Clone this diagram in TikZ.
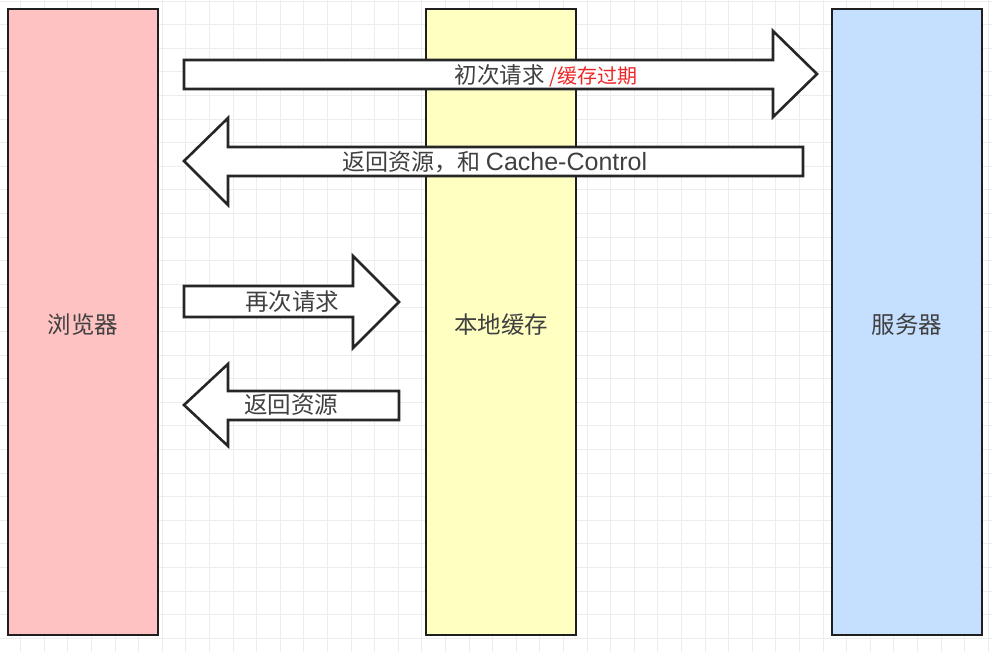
\documentclass[tikz,border=0pt]{standalone}
\usepackage{fontspec}
\setmainfont{Liberation Sans}
\newfontfamily\cjk{Noto Sans CJK SC}
\begin{document}
\begin{tikzpicture}[x=1pt,y=-1pt,
  col/.style={draw=black!88,line width=2pt},
  bigarrow/.style={draw=black!85,line width=2.6pt,fill=white,line join=miter},
  lbl/.style={text=black!75,font=\cjk\fontsize{23.5}{26}\selectfont,inner sep=0pt},
  alabel/.style={text=black!75,font=\cjk\fontsize{22.5}{26}\selectfont,inner sep=0pt}]
\useasboundingbox (0,0) rectangle (992,652);
\fill[white] (0,0) rectangle (992,652);
% grid
\foreach \i in {0,...,42} {
  \draw[black!7,line width=0.9pt] ({-3+23.6*\i},0) -- ({-3+23.6*\i},652);
}
\foreach \j in {0,...,28} {
  \draw[black!7,line width=0.9pt] (0,{1+23.6*\j}) -- (992,{1+23.6*\j});
}
% columns
\draw[col,fill={rgb,255:red,255;green,194;blue,194}] (8,9) rectangle (158,635);
\draw[col,fill={rgb,255:red,255;green,255;blue,194}] (426,9) rectangle (576,635);
\draw[col,fill={rgb,255:red,197;green,223;blue,255}] (832,9) rectangle (982,635);
\node[lbl] (browser) at (83,325) {浏览器};
\node[lbl] (cache) at (501,325) {本地缓存};
\node[lbl] (server) at (907,325) {服务器};
% arrow 1
\draw[bigarrow] (184,60) -- (773,60) -- (773,31) -- (817,74) -- (773,117) -- (773,89) -- (184,89) -- cycle;
\node[alabel] (a1) at (546,76) {初次请求 \textcolor[rgb]{0.93,0.15,0.15}{\fontsize{20}{24}\selectfont/缓存过期}};
% arrow 2
\draw[bigarrow] (803,147) -- (228,147) -- (228,118) -- (184,161) -- (228,205) -- (228,176) -- (803,176) -- cycle;
\node[alabel,font=\cjk\fontsize{23}{26}\selectfont] (a2) at (495,162) {返回资源，和 {\rmfamily\fontsize{25}{27}\selectfont Cache-Control}};
% arrow 3
\draw[bigarrow] (184,286) -- (353,286) -- (353,256) -- (399,302) -- (353,348) -- (353,317) -- (184,317) -- cycle;
\node[alabel,font=\cjk\fontsize{23.5}{26}\selectfont] (a3) at (292,302) {再次请求};
% arrow 4
\draw[bigarrow] (399,391) -- (228,391) -- (228,364) -- (184,405) -- (228,446) -- (228,420) -- (399,420) -- cycle;
\node[alabel,font=\cjk\fontsize{23.5}{26}\selectfont] (a4) at (291,405) {返回资源};
\end{tikzpicture}
\end{document}
